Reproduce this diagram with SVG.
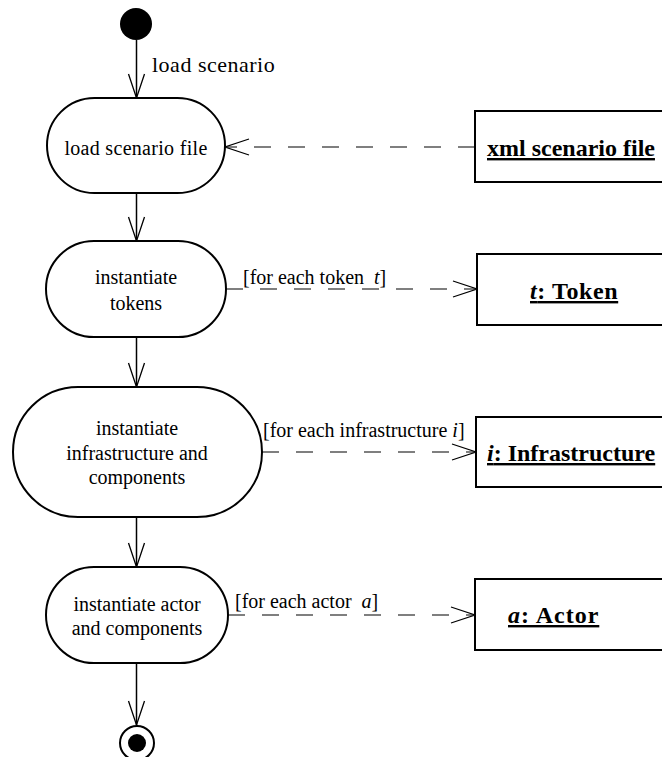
<svg xmlns="http://www.w3.org/2000/svg" width="662" height="757" viewBox="0 0 662 757">
<style>
text{font-family:"Liberation Serif","Times New Roman","DejaVu Serif",serif;fill:#000}
.nt{font-size:20px;text-anchor:middle}
.lb{font-size:20px}
.ob{font-size:24px;font-weight:bold;text-decoration:underline}
.node{fill:#fff;stroke:#000;stroke-width:2}
.box{fill:#fff;stroke:#000;stroke-width:2}
.flow{stroke:#000;stroke-width:1.5;fill:none}
.dep{stroke:#000;stroke-width:1.2;fill:none;stroke-dasharray:17 17}
</style>
<defs>
<marker id="arr" markerUnits="userSpaceOnUse" markerWidth="28" markerHeight="20" refX="25" refY="9" orient="auto">
<path d="M1,1 L25,9 L1,17" fill="none" stroke="#000" stroke-width="1.3" stroke-dasharray="none"/>
</marker>
</defs>
<g id="connectors">
<line class="flow" x1="136.5" y1="40" x2="136.5" y2="98" marker-end="url(#arr)"/>
<line class="flow" x1="136.5" y1="193" x2="136.5" y2="241" marker-end="url(#arr)"/>
<line class="flow" x1="136.5" y1="337" x2="136.5" y2="387" marker-end="url(#arr)"/>
<line class="flow" x1="136.5" y1="517" x2="136.5" y2="567" marker-end="url(#arr)"/>
<line class="flow" x1="136.5" y1="663" x2="136.5" y2="725" marker-end="url(#arr)"/>
<line class="dep" x1="475" y1="147" x2="225" y2="147" marker-end="url(#arr)"/>
<line class="dep" x1="226" y1="289" x2="477" y2="289" marker-end="url(#arr)"/>
<line class="dep" x1="262" y1="452" x2="476" y2="452" marker-end="url(#arr)"/>
<line class="dep" x1="228" y1="615" x2="475" y2="615" marker-end="url(#arr)"/>
<text x="152" y="72" font-size="22" letter-spacing="0.5">load scenario</text>
<text class="lb" x="243" y="284" xml:space="preserve">[for each token  <tspan font-style="italic">t</tspan>]</text>
<text class="lb" x="263" y="437">[for each infrastructure <tspan font-style="italic">i</tspan>]</text>
<text class="lb" x="235" y="608" xml:space="preserve">[for each actor  <tspan font-style="italic">a</tspan>]</text>
</g>
<g id="start"><circle cx="136" cy="24" r="16" fill="#000"/></g>
<g id="load-file">
<rect class="node" x="47" y="98" width="178" height="95" rx="47.5" ry="47.5"/>
<text class="nt" x="136" y="155" letter-spacing="0.3">load scenario file</text>
</g>
<g id="inst-tokens">
<rect class="node" x="46" y="241" width="180" height="96" rx="48" ry="48"/>
<text class="nt" x="136" y="284">instantiate</text>
<text class="nt" x="136" y="310">tokens</text>
</g>
<g id="inst-infra">
<rect class="node" x="13" y="387" width="249" height="130" rx="65" ry="65"/>
<text class="nt" x="137" y="435">instantiate</text>
<text class="nt" x="137" y="460">infrastructure and</text>
<text class="nt" x="137" y="484">components</text>
</g>
<g id="inst-actor">
<rect class="node" x="46" y="567" width="182" height="96" rx="48" ry="48"/>
<text class="nt" x="137" y="611">instantiate actor</text>
<text class="nt" x="137" y="635">and components</text>
</g>
<g id="end">
<circle cx="137" cy="743" r="17" fill="#fff" stroke="#000" stroke-width="2"/>
<circle cx="137" cy="743" r="9" fill="#000"/>
</g>
<g id="xml-file">
<rect class="box" x="475" y="111" width="200" height="71"/>
<text class="ob" x="487" y="156">xml scenario file</text>
</g>
<g id="token">
<rect class="box" x="477" y="254" width="200" height="71"/>
<text class="ob" x="530" y="299" letter-spacing="0.6"><tspan font-style="italic">t</tspan>: Token</text>
</g>
<g id="infrastructure">
<rect class="box" x="476" y="417" width="200" height="70"/>
<text class="ob" x="487" y="461"><tspan font-style="italic">i</tspan>: Infrastructure</text>
</g>
<g id="actor">
<rect class="box" x="475" y="579" width="200" height="71"/>
<text class="ob" x="508" y="623" letter-spacing="1"><tspan font-style="italic">a</tspan>: Actor</text>
</g>
</svg>
